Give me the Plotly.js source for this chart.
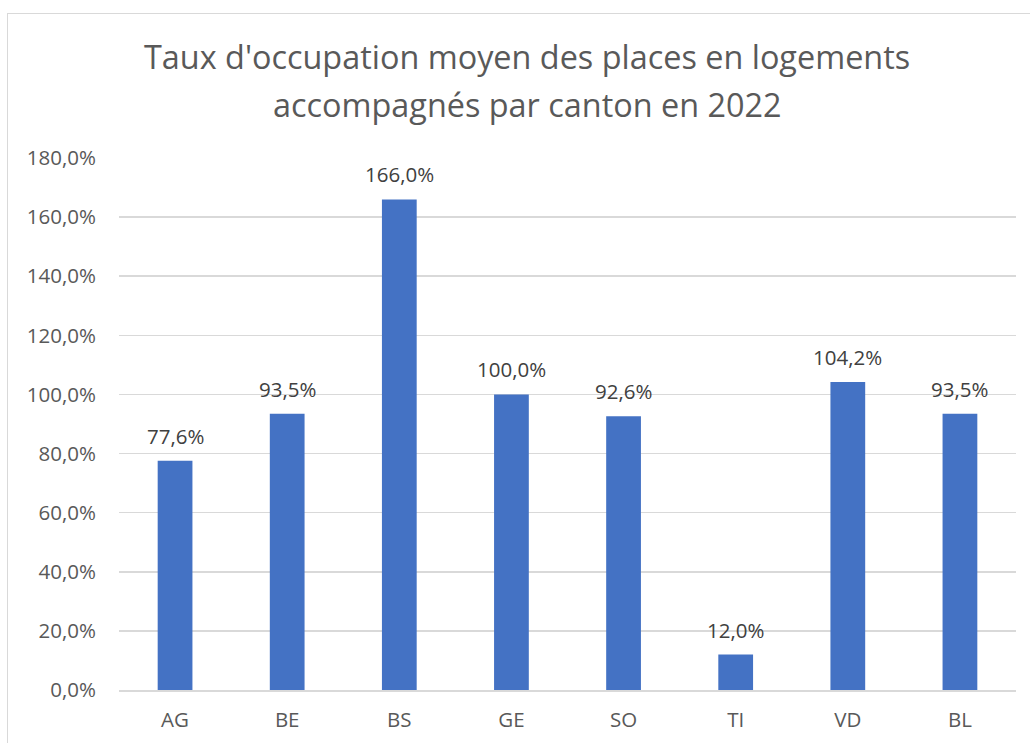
<!DOCTYPE html>
<html>
<head>
<meta charset="utf-8">
<script src="https://cdn.plot.ly/plotly-3.0.1.min.js"></script>
<style>
html,body{margin:0;padding:0;background:#fff;}
#wrap{position:relative;width:1030px;height:743px;overflow:hidden;}
#chart{position:absolute;left:0;top:0;width:1030px;height:743px;}
#frame{position:absolute;left:7px;top:13px;width:1060px;height:780px;border:1.5px solid #d9d9d9;pointer-events:none;}
</style>
</head>
<body>
<div id="wrap"><div id="chart"></div><div id="frame"></div></div>
<script>
const categories = ["AG","BE","BS","GE","SO","TI","VD","BL"];
const values = [77.6, 93.5, 166.0, 100.0, 92.6, 12.0, 104.2, 93.5];
const tickValues = [0,20,40,60,80,100,120,140,160,180];
const tickLabels = ["0,0%","20,0%","40,0%","60,0%","80,0%","100,0%","120,0%","140,0%","160,0%","180,0%"];
const titleLines = ["Taux d'occupation moyen des places en logements", "accompagnés par canton en 2022"];

const FONT = "Open Sans, sans-serif";
const fmt = v => v.toFixed(1).replace('.', ',') + '%';

const trace = {
  type: 'bar',
  x: categories,
  y: values,
  marker: {color: '#4472c4'},
  hoverinfo: 'x+y'
};

const labelAnnotations = categories.map((c, i) => ({
  x: c, y: values[i], xref: 'x', yref: 'y',
  text: fmt(values[i]), showarrow: false,
  yanchor: 'bottom', yshift: 9,
  font: {family: FONT, size: 20.5, color: '#404040'}
}));

const titleY = [1.1915, 1.1015];
const titleAnnotations = titleLines.map((t, i) => ({
  x: 0.455, y: titleY[i], xref: 'paper', yref: 'paper',
  xanchor: 'center', yanchor: 'middle',
  text: t, showarrow: false,
  font: {family: FONT, size: 32.4, color: '#595959'}
}));

const layout = {
  width: 1030, height: 743,
  margin: {l: 119, r: 14, t: 158, b: 53},
  paper_bgcolor: 'rgba(0,0,0,0)',
  plot_bgcolor: '#fff',
  bargap: 0.69,
  showlegend: false,
  xaxis: {
    type: 'category',
    showgrid: false,
    showline: true, linecolor: '#d9d9d9', linewidth: 1.5,
    ticks: '',
    tickfont: {family: FONT, size: 20.5, color: '#595959'},
    ticklabelstandoff: 11,
    fixedrange: true
  },
  yaxis: {
    range: [0, 180],
    tickvals: tickValues,
    ticktext: tickLabels,
    showgrid: true, gridcolor: '#d9d9d9', gridwidth: 1.5,
    zeroline: false, showline: false,
    ticks: '',
    tickfont: {family: FONT, size: 20.5, color: '#595959'},
    ticklabelstandoff: 22,
    fixedrange: true
  },
  annotations: titleAnnotations.concat(labelAnnotations)
};

Plotly.newPlot('chart', [trace], layout, {displayModeBar: false, staticPlot: true});
</script>
</body>
</html>
